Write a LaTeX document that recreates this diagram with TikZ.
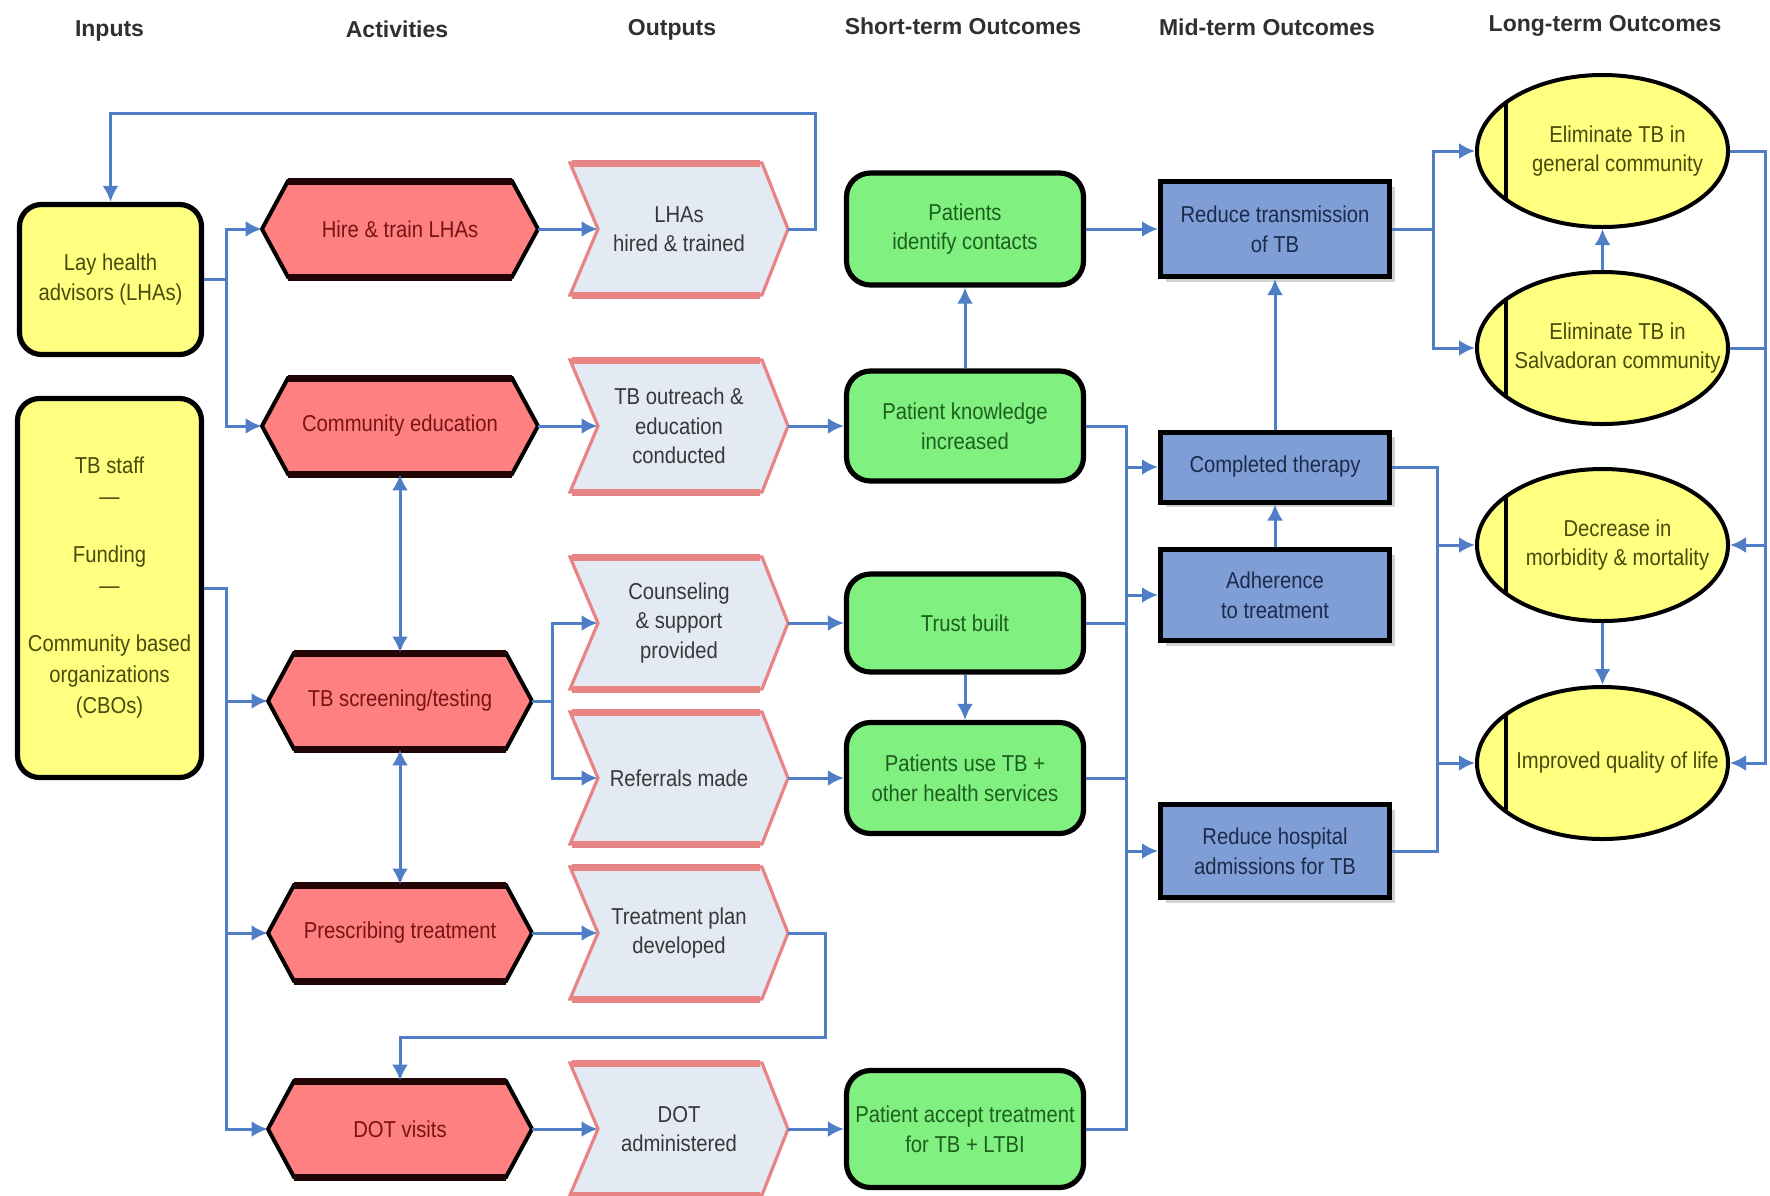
\documentclass[tikz,border=0pt]{standalone}
\usepackage{fontspec}
\setmainfont{Liberation Sans}[FakeStretch=0.88]
\newfontfamily\headfont{Liberation Sans}
\usetikzlibrary{arrows.meta,shapes.geometric,shadows}

\definecolor{cYellow}{HTML}{FFFF80}
\definecolor{cSalmon}{HTML}{FF8080}
\definecolor{cHexRim}{HTML}{220606}
\definecolor{cOutFill}{HTML}{E3EAF4}
\definecolor{cOutRim}{HTML}{E88484}
\definecolor{cGreen}{HTML}{80F080}
\definecolor{cBlue}{HTML}{7F9ED6}
\definecolor{cLink}{HTML}{4F7EC6}
\definecolor{cHead}{HTML}{303030}
\definecolor{cInText}{HTML}{4A4A0C}
\definecolor{cActText}{HTML}{781414}
\definecolor{cOutText}{HTML}{383838}
\definecolor{cStText}{HTML}{1E5E1E}
\definecolor{cMidText}{HTML}{1C2B4C}

% activity hexagon: name, centre x, centre y, half width, text
\newcommand\acthex[5]{%
  \path[hexbody] ({#2-#4},#3) -- ({#2-#4+26},{#3-48}) -- ({#2+#4-26},{#3-48})
    -- ({#2+#4},#3) -- ({#2+#4-26},{#3+48}) -- ({#2-#4+26},{#3+48}) -- cycle;
  \draw[hexrim] ({#2-#4+26},{#3-48}) -- ({#2+#4-26},{#3-48})
                ({#2-#4+26},{#3+48}) -- ({#2+#4-26},{#3+48});
  \node[acttxt, minimum width=#4pt, minimum height=48pt] (#1) at (#2,#3) {#5};}

% output chevron: name, centre y, text
\newcommand\outchev[3]{%
  \path[chevbody] (570,{#2-66}) -- (762,{#2-66}) -- (788,#2) -- (762,{#2+66})
    -- (570,{#2+66}) -- (598,#2) -- cycle;
  \draw[chevrim] (572,{#2-66}) -- (760,{#2-66}) (572,{#2+66}) -- (760,{#2+66});
  \node[outtxt] (#1) at (679,#2) {#3};}

\begin{document}
\begin{tikzpicture}[x=0.5pt,y=-0.5pt,
  every node/.style={font=\fontsize{11.5}{14.8}\selectfont, align=center, inner sep=1pt},
  hdr/.style={font=\headfont\bfseries\fontsize{11.5}{14}\selectfont, text=cHead, anchor=base},
  inbox/.style={draw=black, line width=2.6pt, fill=cYellow, rounded corners=11pt, text=cInText},
  acttxt/.style={text=cActText, inner sep=0pt},
  hexbody/.style={fill=cSalmon, draw=black, line width=2pt},
  hexrim/.style={draw=cHexRim, line width=3.5pt},
  outtxt/.style={text=cOutText, inner sep=0pt, minimum width=109pt, minimum height=66pt},
  chevbody/.style={fill=cOutFill, draw=cOutRim, line width=1.6pt},
  chevrim/.style={draw=cOutRim, line width=3.5pt},
  stbox/.style={draw=black, line width=2.6pt, fill=cGreen, rounded corners=12pt, text=cStText,
    minimum width=118.5pt},
  midbox/.style={draw=black, line width=2.5pt, fill=cBlue, text=cMidText, minimum width=114.5pt,
    drop shadow={shadow xshift=2.5pt, shadow yshift=-2.5pt, fill=black!35}},
  ltell/.style={ellipse, draw=black, line width=2pt, fill=cYellow, minimum width=125.5pt,
    minimum height=76pt, inner sep=0pt,
    path picture={\draw[line width=2pt] ([xshift=14.5pt]path picture bounding box.south west)
      -- ([xshift=14.5pt]path picture bounding box.north west);}},
  lttxt/.style={text=cInText},
  link/.style={draw=cLink, line width=1.5pt},
  arr/.style={link, -{Latex[length=8pt,width=8pt]}},
  arrboth/.style={link, {Latex[length=8pt,width=8pt]}-{Latex[length=8pt,width=8pt]}}]

\fill[white] (0,0) rectangle (1770,1195);
\useasboundingbox (0,0) rectangle (1770,1195);

% column headings
\node[hdr] (h1) at (109.5,36) {Inputs};
\node[hdr] (h2) at (397,37) {Activities};
\node[hdr] (h3) at (672,35) {Outputs};
\node[hdr] (h4) at (963,34) {Short-term Outcomes};
\node[hdr] (h5) at (1267,35) {Mid-term Outcomes};
\node[hdr] (h6) at (1605,31) {Long-term Outcomes};

% inputs
\node[inbox, minimum width=91pt, minimum height=75pt] (i1) at (110.5,279.5) {Lay health\\advisors (LHAs)};
\node[inbox, minimum width=92pt, minimum height=189.5pt, font=\fontsize{11.5}{15.5}\selectfont] (i2) at (109.5,588)
  {TB staff\\---\\[13.5pt]Funding\\---\\[13.5pt]Community based\\organizations\\(CBOs)};

% activities
\acthex{a1}{400}{229}{138}{Hire \& train LHAs}
\acthex{a2}{400}{426}{138}{Community education}
\acthex{a3}{400}{701}{132}{TB screening/testing}
\acthex{a4}{400}{933}{132}{Prescribing treatment}
\acthex{a5}{400}{1129}{132}{DOT visits}

% outputs
\outchev{o1}{229}{LHAs\\hired \& trained}
\outchev{o2}{426}{TB outreach \&\\education\\conducted}
\outchev{o3}{623}{Counseling\\\& support\\provided}
\outchev{o4}{778}{Referrals made}
\outchev{o5}{933}{Treatment plan\\developed}
\outchev{o6}{1129}{DOT\\administered}

% short-term outcomes
\node[stbox, minimum height=56pt] (s1) at (965,229) {Patients\\identify contacts};
\node[stbox, minimum height=55pt] (s2) at (965,426) {Patient knowledge\\increased};
\node[stbox, minimum height=49pt] (s3) at (965,623) {Trust built};
\node[stbox, minimum height=55.5pt] (s4) at (965,778) {Patients use TB +\\other health services};
\node[stbox, minimum height=58.5pt] (s5) at (965,1129) {Patient accept treatment\\for TB + LTBI};

% mid-term outcomes
\node[midbox, minimum height=47.5pt] (m1) at (1275,229) {Reduce transmission\\of TB};
\node[midbox, minimum height=35pt] (m2) at (1275,467) {Completed therapy};
\node[midbox, minimum height=45.5pt] (m3) at (1275,595) {Adherence\\to treatment};
\node[midbox, minimum height=46.5pt] (m4) at (1275,851) {Reduce hospital\\admissions for TB};

% long-term outcomes
\node[ltell] (l1) at (1602.5,151) {};
\node[lttxt] (l1t) at ([xshift=7.5pt]l1.center) {Eliminate TB in\\general community};
\node[ltell] (l2) at (1602.5,348) {};
\node[lttxt] (l2t) at ([xshift=7.5pt]l2.center) {Eliminate TB in\\Salvadoran community};
\node[ltell] (l3) at (1602.5,545) {};
\node[lttxt] (l3t) at ([xshift=7.5pt]l3.center) {Decrease in\\morbidity \& mortality};
\node[ltell] (l4) at (1602.5,763) {};
\node[lttxt] (l4t) at ([xshift=7.5pt]l4.center) {Improved quality of life};

% bus lines and bends
\coordinate (busA) at (226,0);
\coordinate (busB) at (552,0);
\coordinate (busC) at (1126,0);
\coordinate (busD) at (1433,0);
\coordinate (busE) at (1437,0);
\coordinate (busF) at (1765,0);
\coordinate (loopR) at (815,113);
\coordinate (planR) at (825,1037);

% feedback from trained LHAs to the input
\draw[arr] (o1.east) -| (loopR) -| (i1.north);

% inputs to activities
\draw[arr] (i1.east) -- (i1.east -| busA) |- (a1.west);
\draw[arr] (i1.east) -- (i1.east -| busA) |- (a2.west);
\draw[arr] (i2.east) -- (i2.east -| busA) |- (a3.west);
\draw[arr] (i2.east) -- (i2.east -| busA) |- (a4.west);
\draw[arr] (i2.east) -- (i2.east -| busA) |- (a5.west);

% activities to outputs
\draw[arr] (a1.east) -- ([xshift=14pt]o1.west);
\draw[arr] (a2.east) -- ([xshift=14pt]o2.west);
\draw[arr] (a3.east) -- (a3.east -| busB) |- ([xshift=14pt]o3.west);
\draw[arr] (a3.east) -- (a3.east -| busB) |- ([xshift=14pt]o4.west);
\draw[arr] (a4.east) -- ([xshift=14pt]o5.west);
\draw[arr] (a5.east) -- ([xshift=14pt]o6.west);
\draw[arrboth] (a2.south) -- (a3.north);
\draw[arrboth] (a3.south) -- (a4.north);
\draw[arr] (o5.east) -| (planR) -| (a5.north);

% outputs to short-term outcomes
\draw[arr] (o2.east) -- (s2.west);
\draw[arr] (o3.east) -- (s3.west);
\draw[arr] (o4.east) -- (s4.west);
\draw[arr] (o6.east) -- (s5.west);
\draw[arr] (s2.north) -- (s1.south);
\draw[arr] (s3.south) -- (s4.north);

% short-term to mid-term outcomes
\draw[arr] (s1.east) -- (m1.west);
\draw[arr] (s2.east) -- (s2.east -| busC) |- (m2.west);
\draw[arr] (s3.east) -- (s3.east -| busC) |- (m3.west);
\draw[arr] (s4.east) -- (s4.east -| busC) |- (m4.west);
\draw[link] (s5.east) -| (s2.east -| busC);
\draw[arr] (m3.north) -- (m2.south);
\draw[arr] (m2.north) -- (m1.south);

% mid-term to long-term outcomes
\draw[arr] (m1.east) -- (m1.east -| busD) |- (l1.west);
\draw[arr] (m1.east) -- (m1.east -| busD) |- (l2.west);
\draw[arr] (m2.east) -- (m2.east -| busE) |- (l3.west);
\draw[arr] (m4.east) -- (m4.east -| busE) |- (l4.west);
\draw[link] (m2.east -| busE) -- (m4.east -| busE);
\draw[arr] (l2.north) -- (l1.south);
\draw[arr] (l3.south) -- (l4.north);
\draw[arr] (l1.east) -- (l1.east -| busF) |- (l3.east);
\draw[arr] (l2.east) -- (l2.east -| busF) |- (l4.east);
\end{tikzpicture}
\end{document}
